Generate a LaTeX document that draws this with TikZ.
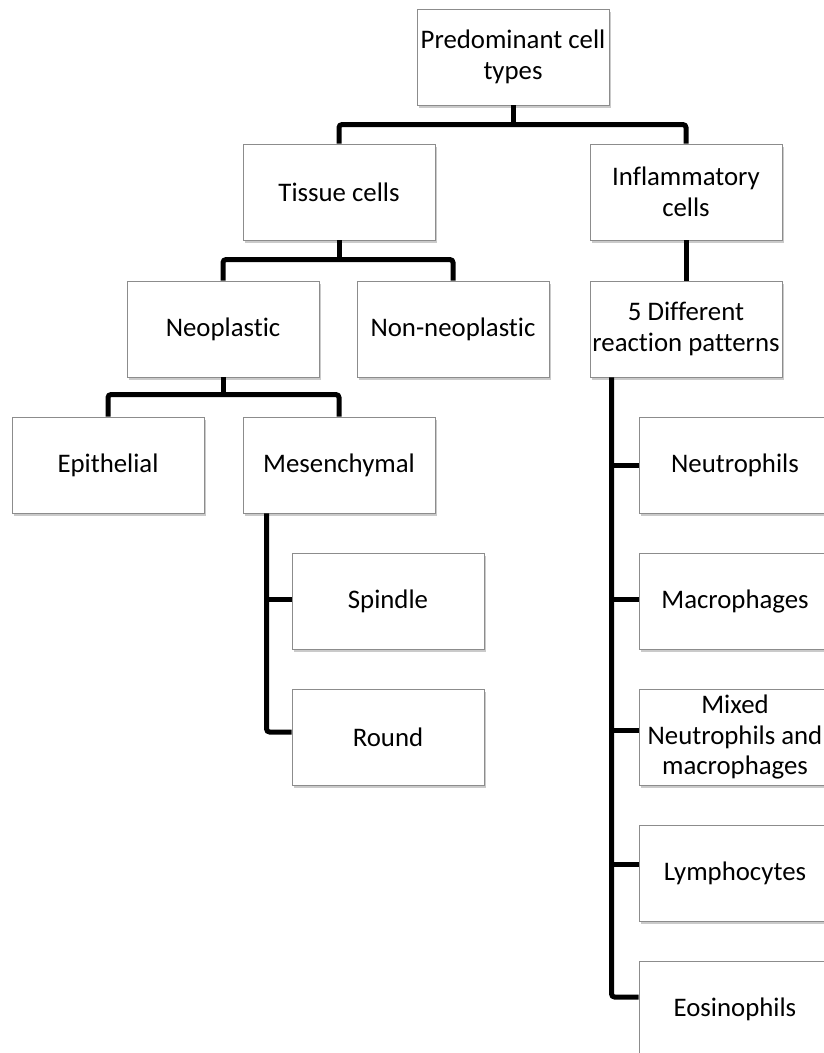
\documentclass[tikz,border=0pt]{standalone}
\usepackage{fontspec}
\setmainfont[Ligatures=NoCommon]{Carlito}
\usetikzlibrary{shadows}
\tikzset{
  box/.style={draw=black!45, line width=0.9pt, fill=white, minimum width=192pt, minimum height=96pt,
    align=center, inner sep=2pt, font=\fontsize{26.8}{30.5}\selectfont,
    drop shadow={shadow xshift=1.5pt, shadow yshift=-2.5pt, opacity=0.35, fill=black!60}},
  conn/.style={line width=5pt, black, rounded corners=3pt}
}
\begin{document}
\begin{tikzpicture}[x=1pt,y=-1pt]
\useasboundingbox (0,0) rectangle (823,1053);
\node[box] (pred) at (513,57) {Predominant cell\\types};
\node[box] (tissue) at (339,192) {Tissue cells};
\node[box] (infl) at (686,192) {Inflammatory\\cells};
\node[box] (neo) at (223,329) {Neoplastic};
\node[box] (nonneo) at (453,329) {Non-neoplastic};
\node[box] (five) at (686,329) {5 Different\\reaction patterns};
\node[box] (epi) at (108,465) {Epithelial};
\node[box] (mes) at (339,465) {Mesenchymal};
\node[box] (spindle) at (388,601) {Spindle};
\node[box] (round) at (388,737) {Round};
\node[box] (neut) at (735,465) {Neutrophils};
\node[box] (macro) at (735,601) {Macrophages};
\node[box] (mixed) at (735,737) {Mixed\\Neutrophils and\\macrophages};
\node[box] (lymph) at (735,873) {Lymphocytes};
\node[box] (eos) at (735,1009) {Eosinophils};
% top level
\draw[conn] (pred.south) -- ++(0,20);
\draw[conn] (tissue.north) -- ++(0,-19) -| (infl.north);
% tissue
\draw[conn] (tissue.south) -- ++(0,20);
\draw[conn] (neo.north) -- ++(0,-21) -| (nonneo.north);
% inflammatory
\draw[conn] (infl.south) -- (five.north);
% neoplastic
\draw[conn] (neo.south) -- ++(0,18);
\draw[conn] (epi.north) -- ++(0,-22) -| (mes.north);
% mesenchymal spine
\coordinate (mspine) at ([xshift=24pt]mes.south west);
\coordinate (csp) at ([yshift=2pt]spindle.west);
\coordinate (crd) at ([yshift=5pt]round.west);
\draw[conn] (mspine) |- (crd);
\draw[line width=5pt] (csp -| mspine) -- (csp);
% inflammatory spine
\coordinate (ispine) at ([xshift=22pt]five.south west);
\coordinate (cne) at (neut.west);
\coordinate (cma) at ([yshift=2pt]macro.west);
\coordinate (cmi) at ([yshift=7pt]mixed.west);
\coordinate (cly) at ([yshift=9pt]lymph.west);
\coordinate (ceo) at ([yshift=12pt]eos.west);
\draw[conn] (ispine) |- (ceo);
\draw[line width=5pt] (cne -| ispine) -- (cne);
\draw[line width=5pt] (cma -| ispine) -- (cma);
\draw[line width=5pt] (cmi -| ispine) -- (cmi);
\draw[line width=5pt] (cly -| ispine) -- (cly);
\end{tikzpicture}
\end{document}
